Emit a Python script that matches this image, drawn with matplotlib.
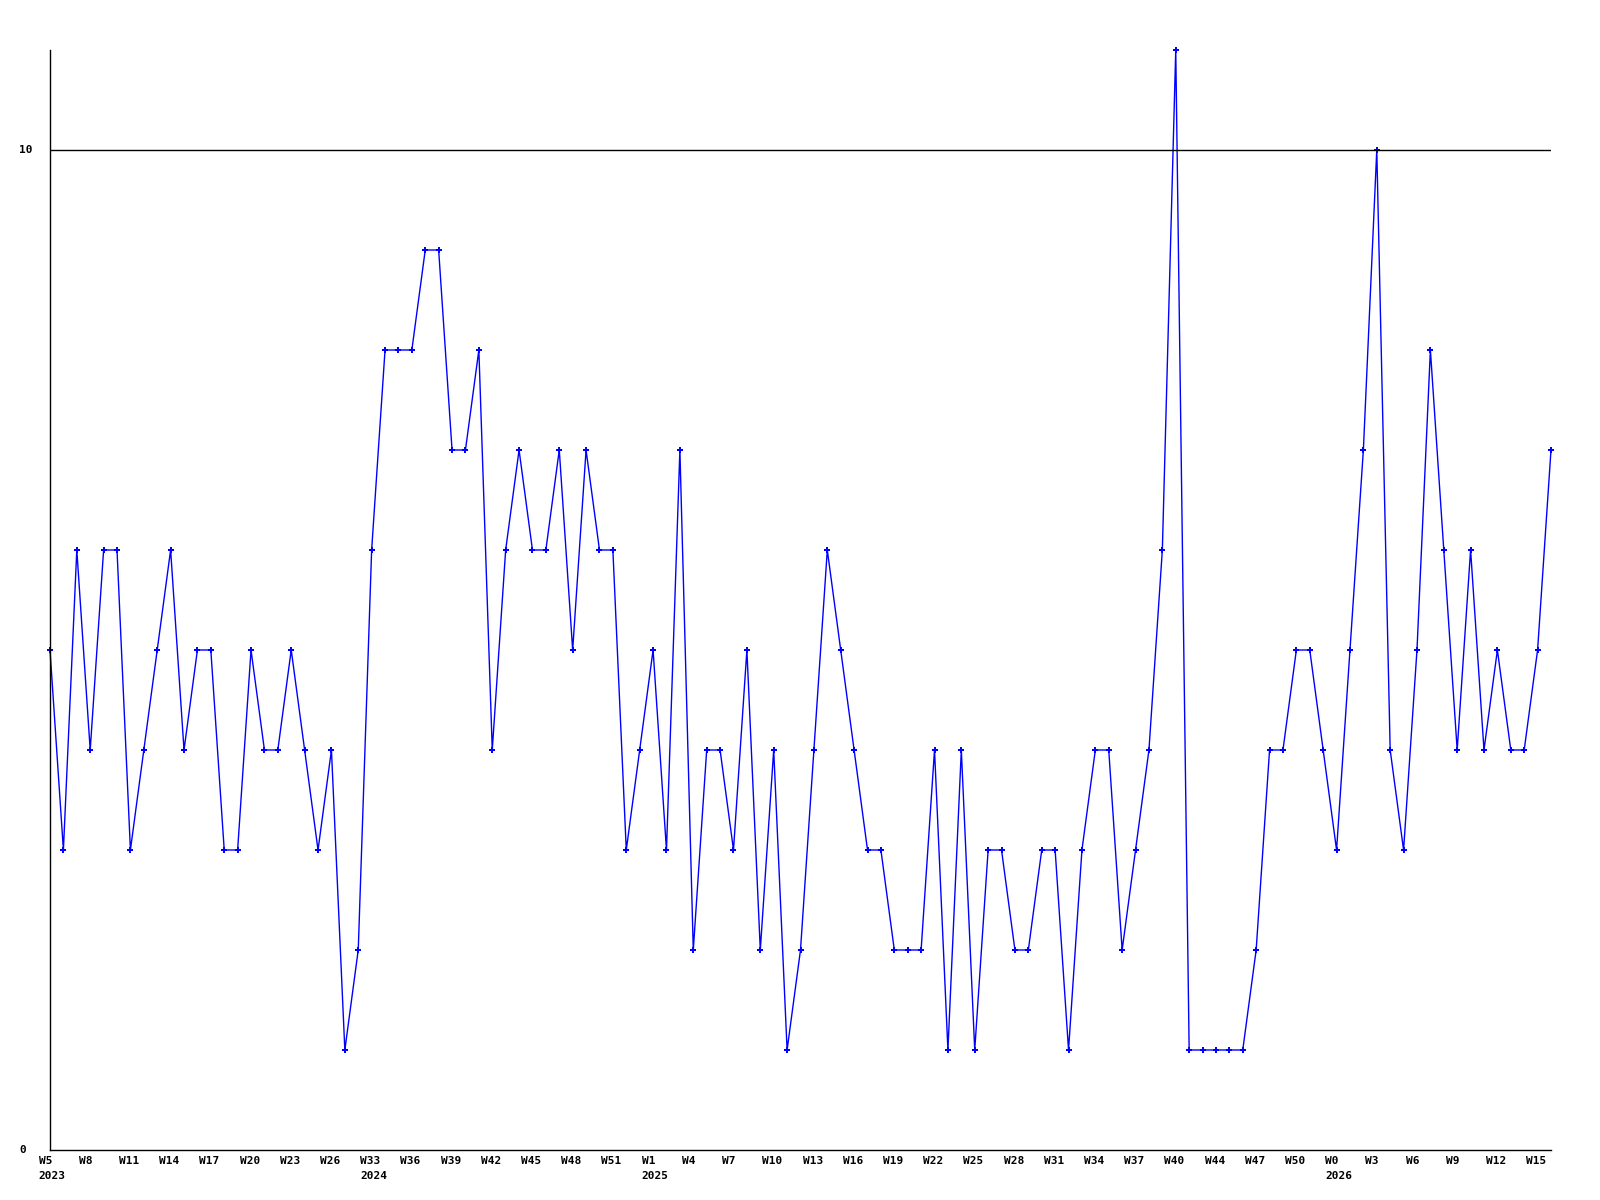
import matplotlib
matplotlib.use('Agg')
import matplotlib.pyplot as plt
import matplotlib.transforms as mtransforms

# weekly counts, one per week
values = [5, 3, 6, 4, 6, 6, 3, 4, 5, 6,
          4, 5, 5, 3, 3, 5, 4, 4, 5, 4,
          3, 4, 1, 2, 6, 8, 8, 8, 9, 9,
          7, 7, 8, 4, 6, 7, 6, 6, 7, 5,
          7, 6, 6, 3, 4, 5, 3, 7, 2, 4,
          4, 3, 5, 2, 4, 1, 2, 4, 6, 5,
          4, 3, 3, 2, 2, 2, 4, 1, 4, 1,
          3, 3, 2, 2, 3, 3, 1, 3, 4, 4,
          2, 3, 4, 6, 11, 1, 1, 1, 1, 1,
          2, 4, 4, 5, 5, 4, 3, 5, 7, 10,
          4, 3, 5, 8, 6, 4, 6, 4, 5, 4,
          4, 5, 7]

week_labels = ["W5", "W8", "W11", "W14", "W17", "W20", "W23", "W26", "W33",
               "W36", "W39", "W42", "W45", "W48", "W51", "W1", "W4", "W7",
               "W10", "W13", "W16", "W19", "W22", "W25", "W28", "W31", "W34",
               "W37", "W40", "W44", "W47", "W50", "W0", "W3", "W6", "W9",
               "W12", "W15"]
year_labels = {0: "2023", 24: "2024", 45: "2025", 96: "2026"}

y_ticks = [0, 10]

font = dict(family='DejaVu Sans Mono', fontweight='bold', fontsize=8)

fig = plt.figure(figsize=(16, 12), dpi=100)
ax = fig.add_axes([50 / 1600, 50 / 1200, 1501 / 1600, 1100 / 1200])

x = list(range(len(values)))
ax.plot(x, values, color='#0000ff', linewidth=1.0, marker='P',
        markersize=4.5, markeredgewidth=0, clip_on=False)

ax.axhline(10, color='black', linewidth=1.0)
ax.set_xlim(0, len(values) - 1)
ax.set_ylim(0, 11)

for s in ('top', 'right'):
    ax.spines[s].set_visible(False)
for s in ('left', 'bottom'):
    ax.spines[s].set_linewidth(1.0)
ax.set_xticks([])
ax.set_yticks([])

# y labels, left aligned at the figure edge
ytrans = mtransforms.blended_transform_factory(fig.transFigure, ax.transData)
for v in y_ticks:
    ax.text(19.5 / 1600, v, str(v), transform=ytrans, ha='left', va='center', **font)

# week and year labels below the axis
xtrans = mtransforms.blended_transform_factory(ax.transData, fig.transFigure)
for i, lab in enumerate(week_labels):
    ax.text(i * 3 - 0.85, 1 - 1156 / 1200, lab, transform=xtrans,
            ha='left', va='top', **font)
for i, lab in year_labels.items():
    ax.text(i - 0.85, 1 - 1171 / 1200, lab, transform=xtrans,
            ha='left', va='top', **font)

fig.savefig('out.png', dpi=100)
plt.close(fig)
